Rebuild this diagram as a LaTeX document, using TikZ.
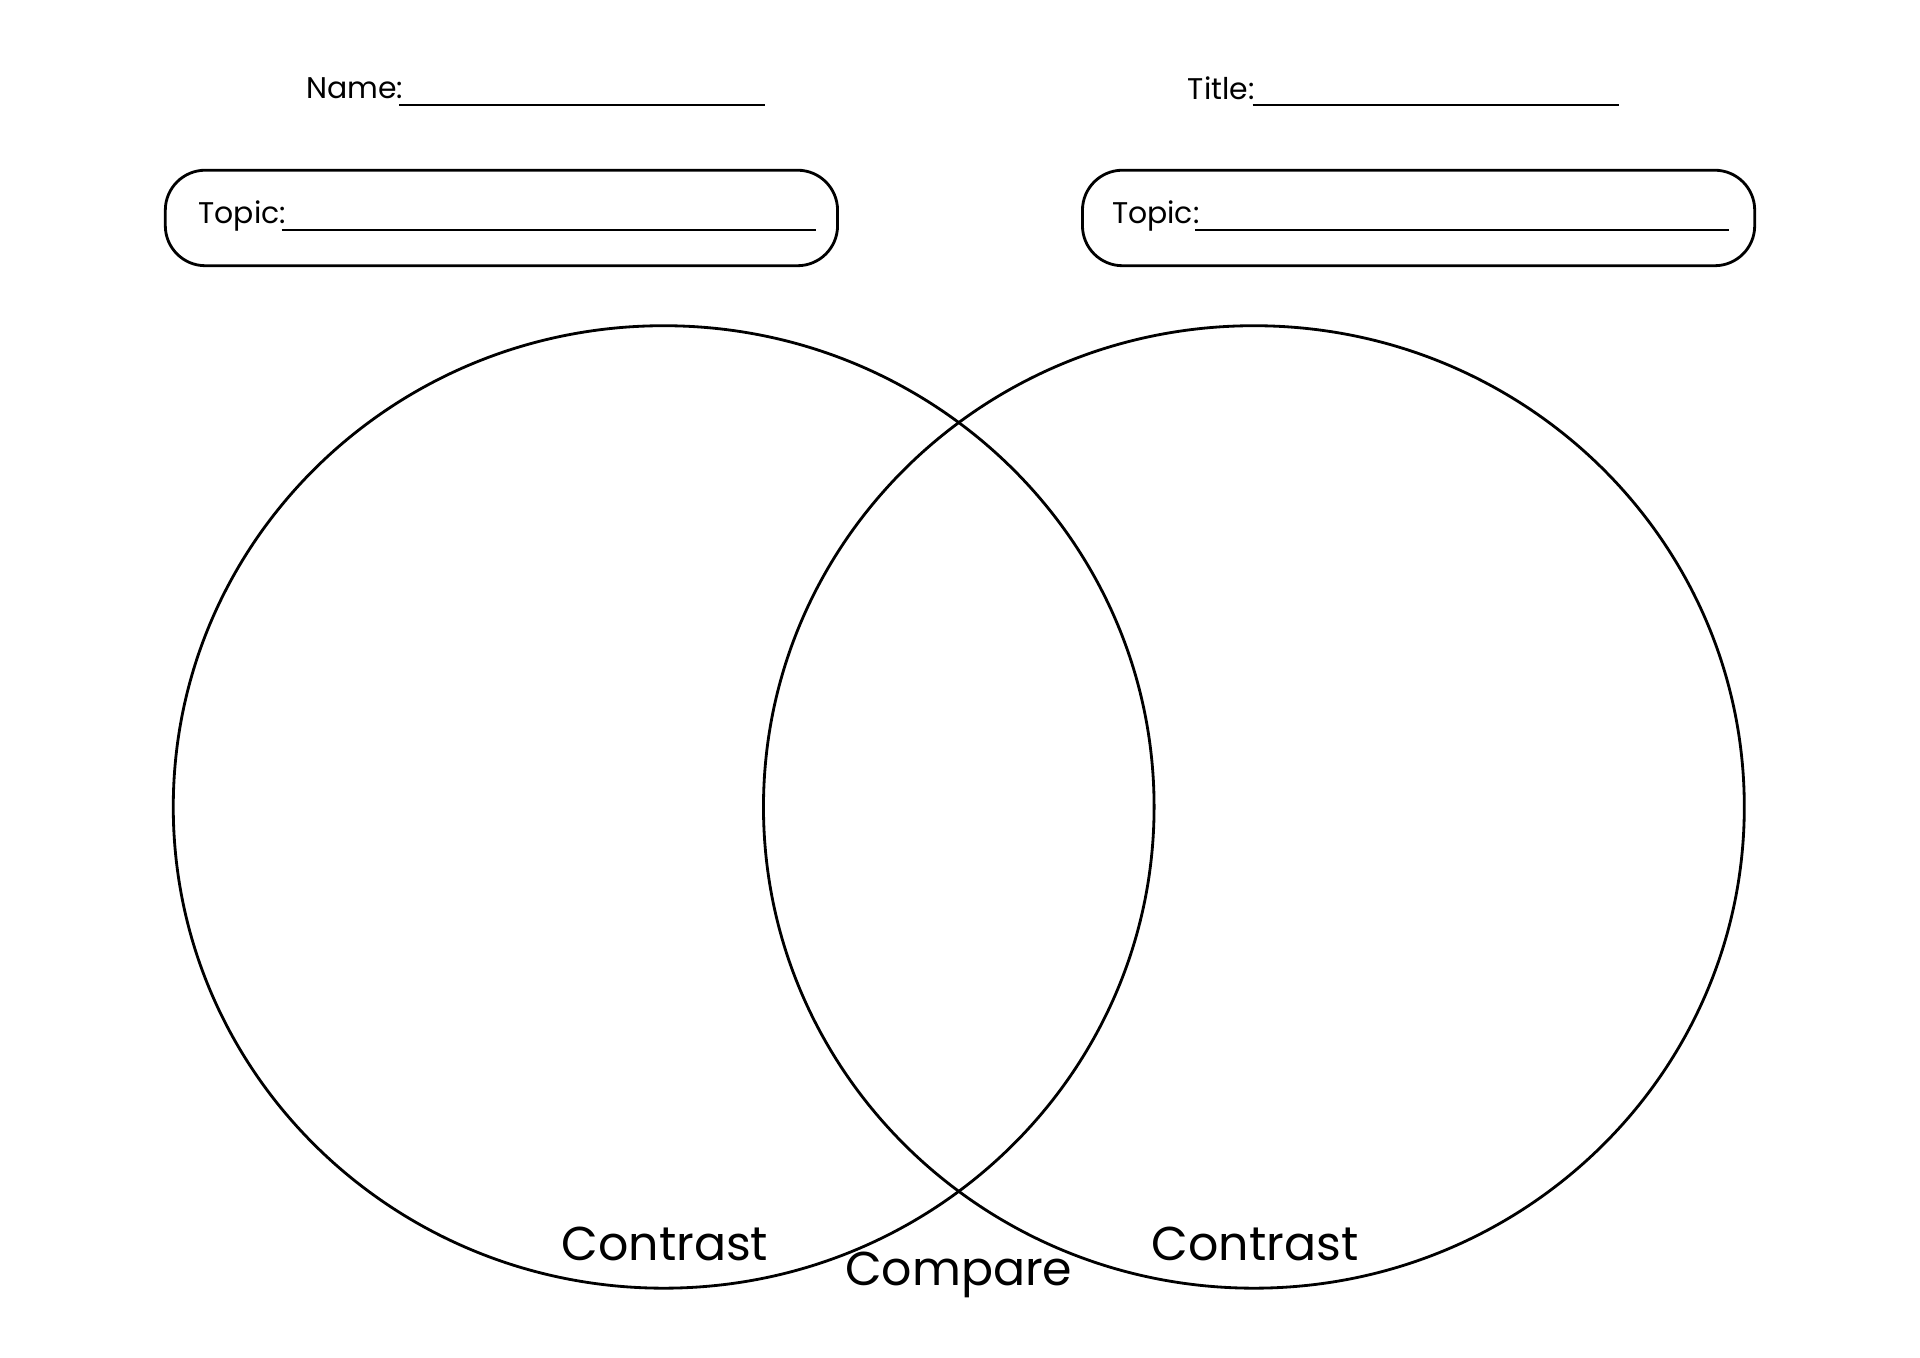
\documentclass[tikz,border=0pt]{standalone}
\usepackage{fontspec}
\setmainfont{Poppins}
\begin{document}
\begin{tikzpicture}[x=0.012245cm,y=-0.012245cm,
  ln/.style={line width=0.8pt},
  small/.style={font=\fontsize{8.5}{10}\selectfont},
  big/.style={font=\fontsize{13.5}{16}\selectfont}]
\useasboundingbox (0,0) rectangle (1568,1109);
\draw[ln,rounded corners=0.4cm] (135,139) rectangle (684,217);
\draw[ln,rounded corners=0.4cm] (884,139) rectangle (1433,217);
\node[small,anchor=west] (n) at (240,72) {Name:};
\draw[line width=0.6pt] (326,86) -- (625,86);
\node[small,anchor=west] (t) at (960,72) {Title:};
\draw[line width=0.6pt] (1023,86) -- (1322,86);
\node[small,anchor=west] (tl) at (152,176) {Topic:};
\draw[line width=0.6pt] (230,188) -- (666,188);
\node[small,anchor=west] (tr) at (898,176) {Topic:};
\draw[line width=0.6pt] (976,188) -- (1412,188);
\draw[ln] (542,659) ellipse [x radius=400.5, y radius=393];
\draw[ln] (1024,659) ellipse [x radius=400.5, y radius=393];
\node[big] (c1) at (543,1016) {Contrast};
\node[big] (c2) at (1025,1016) {Contrast};
\node[big] (cp) at (783,1041) {Compare};
\end{tikzpicture}
\end{document}
